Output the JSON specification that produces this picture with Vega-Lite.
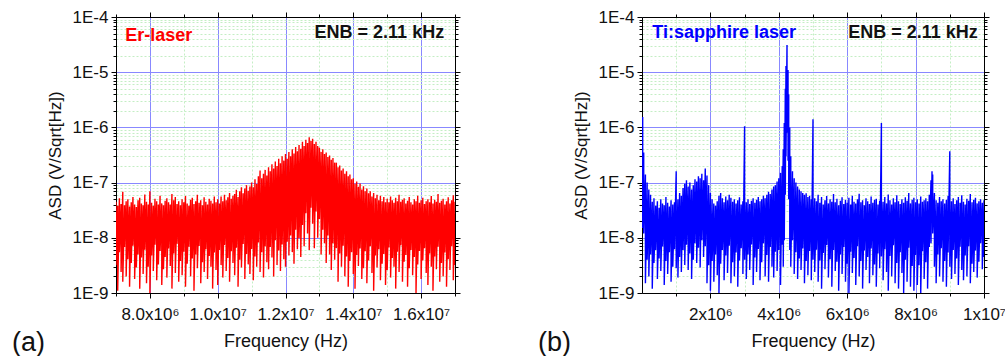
{
  "$schema": "https://vega.github.io/schema/vega-lite/v6.json",
  "padding": {"left": 12, "top": 8, "right": 0, "bottom": 0},
  "spacing": 77,
  "config": {
    "view": {"stroke": null},
    "font": "Liberation Sans",
    "axis": {
      "domainColor": "#000000",
      "domainWidth": 1,
      "tickColor": "#000000",
      "tickWidth": 1,
      "labelFont": "Liberation Sans",
      "titleFont": "Liberation Sans",
      "labelFontSize": 17,
      "titleFontSize": 17,
      "titleFontWeight": "normal",
      "labelColor": "#111111",
      "titleColor": "#111111",
      "labelOverlap": false,
      "labelFlush": false,
      "gridWidth": 1
    }
  },
  "datasets": {
    "er": [
      {"f":7.00e6,"hi":4.5e-8,"lo":3.2e-9},{"f":7.05e6,"hi":3.8e-8,"lo":1.1e-9},{"f":7.10e6,"hi":5.2e-8,"lo":5.5e-9},{"f":7.15e6,"hi":4.1e-8,"lo":2.4e-9},{"f":7.20e6,"hi":6.8e-8,"lo":1.6e-9},
      {"f":7.25e6,"hi":3.9e-8,"lo":6.8e-9},{"f":7.30e6,"hi":4.6e-8,"lo":2.0e-9},{"f":7.35e6,"hi":5.0e-8,"lo":4.1e-9},{"f":7.40e6,"hi":3.7e-8,"lo":1.3e-9},{"f":7.45e6,"hi":4.4e-8,"lo":3.5e-9},
      {"f":7.50e6,"hi":5.5e-8,"lo":7.2e-9},{"f":7.55e6,"hi":4.0e-8,"lo":1.8e-9},{"f":7.60e6,"hi":3.6e-8,"lo":2.9e-9},{"f":7.65e6,"hi":4.8e-8,"lo":5.0e-9},{"f":7.70e6,"hi":5.3e-8,"lo":1.2e-9},
      {"f":7.75e6,"hi":4.2e-8,"lo":4.4e-9},{"f":7.80e6,"hi":3.9e-8,"lo":2.2e-9},{"f":7.85e6,"hi":6.1e-8,"lo":6.1e-9},{"f":7.90e6,"hi":4.5e-8,"lo":1.5e-9},{"f":7.95e6,"hi":4.0e-8,"lo":3.0e-9},
      {"f":8.00e6,"hi":7.0e-8,"lo":1.0e-9},{"f":8.05e6,"hi":4.3e-8,"lo":4.8e-9},{"f":8.10e6,"hi":3.8e-8,"lo":2.5e-9},{"f":8.15e6,"hi":5.1e-8,"lo":7.5e-9},{"f":8.20e6,"hi":4.6e-8,"lo":1.7e-9},
      {"f":8.25e6,"hi":4.0e-8,"lo":3.3e-9},{"f":8.30e6,"hi":5.8e-8,"lo":5.8e-9},{"f":8.35e6,"hi":4.2e-8,"lo":1.4e-9},{"f":8.40e6,"hi":3.9e-8,"lo":2.7e-9},{"f":8.45e6,"hi":4.7e-8,"lo":4.5e-9},
      {"f":8.50e6,"hi":5.2e-8,"lo":1.9e-9},{"f":8.55e6,"hi":4.4e-8,"lo":6.4e-9},{"f":8.60e6,"hi":4.0e-8,"lo":3.1e-9},{"f":8.65e6,"hi":6.2e-8,"lo":1.2e-9},{"f":8.70e6,"hi":4.8e-8,"lo":5.2e-9},
      {"f":8.75e6,"hi":5.5e-8,"lo":2.3e-9},{"f":8.80e6,"hi":4.1e-8,"lo":7.8e-9},{"f":8.85e6,"hi":4.6e-8,"lo":1.6e-9},{"f":8.90e6,"hi":3.9e-8,"lo":3.8e-9},{"f":8.95e6,"hi":5.0e-8,"lo":2.1e-9},
      {"f":9.00e6,"hi":4.4e-8,"lo":5.6e-9},{"f":9.05e6,"hi":5.7e-8,"lo":1.3e-9},{"f":9.10e6,"hi":4.2e-8,"lo":3.4e-9},{"f":9.15e6,"hi":3.8e-8,"lo":6.9e-9},{"f":9.20e6,"hi":4.9e-8,"lo":2.0e-9},
      {"f":9.25e6,"hi":5.3e-8,"lo":4.2e-9},{"f":9.30e6,"hi":4.1e-8,"lo":1.1e-9},{"f":9.35e6,"hi":4.6e-8,"lo":5.0e-9},{"f":9.40e6,"hi":6.0e-8,"lo":2.8e-9},{"f":9.45e6,"hi":4.3e-8,"lo":7.1e-9},
      {"f":9.50e6,"hi":4.8e-8,"lo":1.5e-9},{"f":9.55e6,"hi":3.9e-8,"lo":3.6e-9},{"f":9.60e6,"hi":5.4e-8,"lo":2.4e-9},{"f":9.65e6,"hi":4.5e-8,"lo":6.2e-9},{"f":9.70e6,"hi":4.0e-8,"lo":1.8e-9},
      {"f":9.75e6,"hi":5.1e-8,"lo":4.7e-9},{"f":9.80e6,"hi":4.7e-8,"lo":3.0e-9},{"f":9.85e6,"hi":4.2e-8,"lo":1.2e-9},{"f":9.90e6,"hi":5.6e-8,"lo":5.4e-9},{"f":9.95e6,"hi":4.4e-8,"lo":2.6e-9},
      {"f":1.000e7,"hi":5.0e-8,"lo":1.4e-9},{"f":1.005e7,"hi":4.2e-8,"lo":6.0e-9},{"f":1.010e7,"hi":5.6e-8,"lo":3.2e-9},{"f":1.015e7,"hi":4.6e-8,"lo":1.9e-9},{"f":1.020e7,"hi":6.0e-8,"lo":7.4e-9},
      {"f":1.025e7,"hi":4.8e-8,"lo":2.5e-9},{"f":1.030e7,"hi":5.4e-8,"lo":4.3e-9},{"f":1.035e7,"hi":6.5e-8,"lo":1.6e-9},{"f":1.040e7,"hi":5.1e-8,"lo":5.7e-9},{"f":1.045e7,"hi":5.8e-8,"lo":3.5e-9},
      {"f":1.050e7,"hi":6.2e-8,"lo":2.1e-9},{"f":1.055e7,"hi":7.4e-8,"lo":6.6e-9},{"f":1.060e7,"hi":5.5e-8,"lo":1.3e-9},{"f":1.065e7,"hi":7.0e-8,"lo":4.0e-9},{"f":1.070e7,"hi":8.2e-8,"lo":2.9e-9},
      {"f":1.075e7,"hi":6.4e-8,"lo":7.7e-9},{"f":1.080e7,"hi":7.8e-8,"lo":1.8e-9},{"f":1.085e7,"hi":9.0e-8,"lo":5.1e-9},{"f":1.090e7,"hi":7.1e-8,"lo":3.3e-9},{"f":1.095e7,"hi":8.5e-8,"lo":2.2e-9},
      {"f":1.100e7,"hi":1.00e-7,"lo":6.3e-9},{"f":1.105e7,"hi":8.2e-8,"lo":1.7e-9},{"f":1.110e7,"hi":1.15e-7,"lo":4.6e-9},{"f":1.115e7,"hi":9.4e-8,"lo":3.0e-9},{"f":1.120e7,"hi":1.30e-7,"lo":8.2e-9},
      {"f":1.125e7,"hi":1.65e-7,"lo":2.4e-9},{"f":1.130e7,"hi":1.20e-7,"lo":5.5e-9},{"f":1.135e7,"hi":1.45e-7,"lo":1.9e-9},{"f":1.140e7,"hi":1.70e-7,"lo":7.0e-9},{"f":1.145e7,"hi":1.35e-7,"lo":3.6e-9},
      {"f":1.150e7,"hi":1.90e-7,"lo":2.7e-9},{"f":1.155e7,"hi":1.60e-7,"lo":6.8e-9},{"f":1.160e7,"hi":2.15e-7,"lo":4.4e-9},{"f":1.165e7,"hi":1.80e-7,"lo":2.0e-9},{"f":1.170e7,"hi":2.40e-7,"lo":9.0e-9},
      {"f":1.175e7,"hi":2.00e-7,"lo":3.2e-9},{"f":1.180e7,"hi":2.70e-7,"lo":5.9e-9},{"f":1.185e7,"hi":2.25e-7,"lo":2.5e-9},{"f":1.190e7,"hi":3.00e-7,"lo":7.6e-9},{"f":1.195e7,"hi":2.50e-7,"lo":4.1e-9},
      {"f":1.200e7,"hi":3.30e-7,"lo":3.0e-9},{"f":1.205e7,"hi":2.70e-7,"lo":8.5e-9},{"f":1.210e7,"hi":3.60e-7,"lo":4.8e-9},{"f":1.215e7,"hi":3.00e-7,"lo":1.10e-8},{"f":1.220e7,"hi":4.00e-7,"lo":5.5e-9},
      {"f":1.225e7,"hi":3.35e-7,"lo":3.4e-9},{"f":1.230e7,"hi":4.40e-7,"lo":1.40e-8},{"f":1.235e7,"hi":3.70e-7,"lo":6.2e-9},{"f":1.240e7,"hi":4.80e-7,"lo":9.8e-9},{"f":1.245e7,"hi":4.10e-7,"lo":4.5e-9},
      {"f":1.250e7,"hi":5.50e-7,"lo":1.70e-8},{"f":1.255e7,"hi":4.60e-7,"lo":7.0e-9},{"f":1.260e7,"hi":6.00e-7,"lo":2.80e-8},{"f":1.265e7,"hi":5.20e-7,"lo":1.20e-8},{"f":1.270e7,"hi":6.60e-7,"lo":6.0e-9},
      {"f":1.275e7,"hi":5.70e-7,"lo":3.50e-8},{"f":1.280e7,"hi":6.20e-7,"lo":1.80e-8},{"f":1.285e7,"hi":5.00e-7,"lo":6.5e-9},{"f":1.290e7,"hi":5.50e-7,"lo":3.00e-8},{"f":1.295e7,"hi":4.60e-7,"lo":1.00e-8},
      {"f":1.300e7,"hi":4.30e-7,"lo":2.20e-8},{"f":1.305e7,"hi":3.60e-7,"lo":5.0e-9},{"f":1.310e7,"hi":4.00e-7,"lo":1.40e-8},{"f":1.315e7,"hi":3.30e-7,"lo":8.0e-9},{"f":1.320e7,"hi":3.50e-7,"lo":3.5e-9},
      {"f":1.325e7,"hi":2.90e-7,"lo":1.10e-8},{"f":1.330e7,"hi":3.10e-7,"lo":5.0e-9},{"f":1.335e7,"hi":2.60e-7,"lo":2.6e-9},{"f":1.340e7,"hi":2.80e-7,"lo":8.0e-9},{"f":1.345e7,"hi":2.30e-7,"lo":4.0e-9},
      {"f":1.350e7,"hi":2.30e-7,"lo":6.5e-9},{"f":1.355e7,"hi":1.90e-7,"lo":1.6e-9},{"f":1.360e7,"hi":2.05e-7,"lo":5.2e-9},{"f":1.365e7,"hi":1.65e-7,"lo":3.0e-9},{"f":1.370e7,"hi":1.80e-7,"lo":7.2e-9},
      {"f":1.375e7,"hi":1.45e-7,"lo":2.0e-9},{"f":1.380e7,"hi":1.60e-7,"lo":4.6e-9},{"f":1.385e7,"hi":1.30e-7,"lo":1.3e-9},{"f":1.390e7,"hi":1.40e-7,"lo":3.8e-9},{"f":1.395e7,"hi":1.15e-7,"lo":5.5e-9},
      {"f":1.400e7,"hi":1.20e-7,"lo":2.2e-9},{"f":1.405e7,"hi":9.5e-8,"lo":1.2e-9},{"f":1.410e7,"hi":1.05e-7,"lo":4.9e-9},{"f":1.415e7,"hi":8.4e-8,"lo":3.1e-9},{"f":1.420e7,"hi":9.6e-8,"lo":6.4e-9},
      {"f":1.425e7,"hi":7.5e-8,"lo":1.8e-9},{"f":1.430e7,"hi":8.6e-8,"lo":2.8e-9},{"f":1.435e7,"hi":7.0e-8,"lo":5.7e-9},{"f":1.440e7,"hi":7.8e-8,"lo":1.5e-9},{"f":1.445e7,"hi":6.4e-8,"lo":3.9e-9},
      {"f":1.450e7,"hi":7.0e-8,"lo":7.0e-9},{"f":1.455e7,"hi":5.6e-8,"lo":2.3e-9},{"f":1.460e7,"hi":6.5e-8,"lo":1.1e-9},{"f":1.465e7,"hi":5.2e-8,"lo":4.8e-9},{"f":1.470e7,"hi":6.0e-8,"lo":2.9e-9},
      {"f":1.475e7,"hi":4.8e-8,"lo":6.2e-9},{"f":1.480e7,"hi":5.8e-8,"lo":1.7e-9},{"f":1.485e7,"hi":4.6e-8,"lo":3.4e-9},{"f":1.490e7,"hi":5.5e-8,"lo":5.1e-9},{"f":1.495e7,"hi":4.4e-8,"lo":1.4e-9},
      {"f":1.500e7,"hi":5.1e-8,"lo":2.6e-9},{"f":1.505e7,"hi":4.4e-8,"lo":6.7e-9},{"f":1.510e7,"hi":5.6e-8,"lo":1.9e-9},{"f":1.515e7,"hi":4.8e-8,"lo":4.3e-9},{"f":1.520e7,"hi":4.3e-8,"lo":3.0e-9},
      {"f":1.525e7,"hi":5.3e-8,"lo":1.2e-9},{"f":1.530e7,"hi":4.6e-8,"lo":5.6e-9},{"f":1.535e7,"hi":6.0e-8,"lo":2.4e-9},{"f":1.540e7,"hi":4.5e-8,"lo":7.3e-9},{"f":1.545e7,"hi":4.9e-8,"lo":1.6e-9},
      {"f":1.550e7,"hi":5.2e-8,"lo":3.7e-9},{"f":1.555e7,"hi":4.2e-8,"lo":4.9e-9},{"f":1.560e7,"hi":4.7e-8,"lo":1.3e-9},{"f":1.565e7,"hi":5.5e-8,"lo":2.8e-9},{"f":1.570e7,"hi":4.4e-8,"lo":6.0e-9},
      {"f":1.575e7,"hi":4.0e-8,"lo":2.1e-9},{"f":1.580e7,"hi":5.0e-8,"lo":4.5e-9},{"f":1.585e7,"hi":4.6e-8,"lo":1.0e-9},{"f":1.590e7,"hi":5.8e-8,"lo":3.3e-9},{"f":1.595e7,"hi":4.3e-8,"lo":5.8e-9},
      {"f":1.600e7,"hi":4.8e-8,"lo":1.8e-9},{"f":1.605e7,"hi":5.3e-8,"lo":3.9e-9},{"f":1.610e7,"hi":4.1e-8,"lo":6.5e-9},{"f":1.615e7,"hi":4.6e-8,"lo":2.3e-9},{"f":1.620e7,"hi":5.0e-8,"lo":1.4e-9},
      {"f":1.625e7,"hi":4.4e-8,"lo":5.2e-9},{"f":1.630e7,"hi":5.7e-8,"lo":3.0e-9},{"f":1.635e7,"hi":4.2e-8,"lo":1.1e-9},{"f":1.640e7,"hi":4.9e-8,"lo":4.6e-9},{"f":1.645e7,"hi":4.5e-8,"lo":2.7e-9},
      {"f":1.650e7,"hi":6.2e-8,"lo":6.9e-9},{"f":1.655e7,"hi":4.3e-8,"lo":1.6e-9},{"f":1.660e7,"hi":4.7e-8,"lo":3.5e-9},{"f":1.665e7,"hi":5.1e-8,"lo":2.0e-9},{"f":1.670e7,"hi":4.0e-8,"lo":5.4e-9},
      {"f":1.675e7,"hi":4.6e-8,"lo":1.3e-9},{"f":1.680e7,"hi":5.4e-8,"lo":4.1e-9},{"f":1.685e7,"hi":4.2e-8,"lo":2.6e-9},{"f":1.690e7,"hi":4.8e-8,"lo":7.0e-9},{"f":1.695e7,"hi":5.9e-8,"lo":1.7e-9},
      {"f":1.700e7,"hi":4.5e-8,"lo":3.2e-9}
    ],
    "ti": [
      {"f":0.00e6,"hi":6.0e-7,"lo":2.0e-8},{"f":0.02e6,"hi":1.55e-6,"lo":1.5e-8},{"f":0.05e6,"hi":3.5e-7,"lo":1.2e-8},{"f":0.10e6,"hi":1.4e-7,"lo":1.5e-9},{"f":0.15e6,"hi":1.0e-7,"lo":4.0e-9},
      {"f":0.20e6,"hi":7.5e-8,"lo":2.0e-9},{"f":0.25e6,"hi":6.0e-8,"lo":5.0e-9},{"f":0.30e6,"hi":4.5e-8,"lo":1.2e-9},{"f":0.35e6,"hi":5.2e-8,"lo":3.5e-9},{"f":0.40e6,"hi":3.8e-8,"lo":6.0e-9},
      {"f":0.45e6,"hi":4.6e-8,"lo":1.8e-9},{"f":0.50e6,"hi":3.5e-8,"lo":4.2e-9},{"f":0.55e6,"hi":5.0e-8,"lo":2.5e-9},{"f":0.60e6,"hi":4.2e-8,"lo":7.0e-9},{"f":0.65e6,"hi":3.9e-8,"lo":1.4e-9},
      {"f":0.70e6,"hi":5.5e-8,"lo":3.8e-9},{"f":0.75e6,"hi":4.3e-8,"lo":2.2e-9},{"f":0.80e6,"hi":3.7e-8,"lo":5.5e-9},{"f":0.85e6,"hi":4.8e-8,"lo":1.6e-9},{"f":0.90e6,"hi":4.0e-8,"lo":3.0e-9},
      {"f":0.95e6,"hi":4.4e-8,"lo":6.2e-9},{"f":1.00e6,"hi":1.6e-7,"lo":2.8e-9},{"f":1.05e6,"hi":5.0e-8,"lo":1.9e-9},{"f":1.10e6,"hi":6.5e-8,"lo":4.5e-9},{"f":1.15e6,"hi":5.8e-8,"lo":2.4e-9},
      {"f":1.20e6,"hi":8.0e-8,"lo":6.0e-9},{"f":1.25e6,"hi":9.5e-8,"lo":3.2e-9},{"f":1.30e6,"hi":1.1e-7,"lo":7.5e-9},{"f":1.35e6,"hi":8.5e-8,"lo":2.6e-9},{"f":1.40e6,"hi":1.0e-7,"lo":5.2e-9},
      {"f":1.45e6,"hi":7.5e-8,"lo":1.8e-9},{"f":1.50e6,"hi":9.0e-8,"lo":4.0e-9},{"f":1.55e6,"hi":1.15e-7,"lo":8.0e-9},{"f":1.60e6,"hi":1.05e-7,"lo":3.5e-9},{"f":1.65e6,"hi":1.3e-7,"lo":6.6e-9},
      {"f":1.70e6,"hi":1.2e-7,"lo":2.9e-9},{"f":1.75e6,"hi":1.45e-7,"lo":9.0e-9},{"f":1.80e6,"hi":1.1e-7,"lo":4.5e-9},{"f":1.85e6,"hi":1.8e-7,"lo":7.0e-9},{"f":1.90e6,"hi":1.35e-7,"lo":1.5e-9},
      {"f":1.95e6,"hi":9.0e-8,"lo":3.2e-9},{"f":2.00e6,"hi":6.5e-8,"lo":1.1e-9},{"f":2.05e6,"hi":5.0e-8,"lo":3.8e-9},{"f":2.10e6,"hi":4.2e-8,"lo":1.6e-9},{"f":2.15e6,"hi":3.8e-8,"lo":5.0e-9},
      {"f":2.20e6,"hi":4.6e-8,"lo":2.1e-9},{"f":2.25e6,"hi":5.8e-8,"lo":1.0e-9},{"f":2.30e6,"hi":6.5e-8,"lo":3.4e-9},{"f":2.35e6,"hi":5.2e-8,"lo":6.0e-9},{"f":2.40e6,"hi":4.4e-8,"lo":1.7e-9},
      {"f":2.45e6,"hi":5.6e-8,"lo":4.8e-9},{"f":2.50e6,"hi":4.8e-8,"lo":2.3e-9},{"f":2.55e6,"hi":6.0e-8,"lo":7.2e-9},{"f":2.60e6,"hi":5.3e-8,"lo":1.5e-9},{"f":2.65e6,"hi":4.5e-8,"lo":3.6e-9},
      {"f":2.70e6,"hi":5.0e-8,"lo":2.0e-9},{"f":2.75e6,"hi":4.2e-8,"lo":5.4e-9},{"f":2.80e6,"hi":4.8e-8,"lo":1.3e-9},{"f":2.85e6,"hi":5.4e-8,"lo":3.9e-9},{"f":2.90e6,"hi":4.0e-8,"lo":6.5e-9},
      {"f":2.95e6,"hi":4.6e-8,"lo":2.2e-9},{"f":3.00e6,"hi":1.05e-6,"lo":4.0e-9},{"f":3.05e6,"hi":4.4e-8,"lo":1.8e-9},{"f":3.10e6,"hi":5.0e-8,"lo":5.0e-9},{"f":3.15e6,"hi":4.1e-8,"lo":2.6e-9},
      {"f":3.20e6,"hi":4.7e-8,"lo":7.6e-9},{"f":3.25e6,"hi":5.2e-8,"lo":1.4e-9},{"f":3.30e6,"hi":4.3e-8,"lo":4.4e-9},{"f":3.35e6,"hi":4.9e-8,"lo":2.4e-9},{"f":3.40e6,"hi":5.5e-8,"lo":6.3e-9},
      {"f":3.45e6,"hi":4.6e-8,"lo":1.7e-9},{"f":3.50e6,"hi":5.0e-8,"lo":3.6e-9},{"f":3.55e6,"hi":5.8e-8,"lo":8.0e-9},{"f":3.60e6,"hi":5.2e-8,"lo":2.0e-9},{"f":3.65e6,"hi":6.0e-8,"lo":4.9e-9},
      {"f":3.70e6,"hi":6.8e-8,"lo":1.6e-9},{"f":3.75e6,"hi":6.2e-8,"lo":6.8e-9},{"f":3.80e6,"hi":7.5e-8,"lo":3.0e-9},{"f":3.85e6,"hi":8.5e-8,"lo":1.9e-9},{"f":3.90e6,"hi":9.0e-8,"lo":5.6e-9},
      {"f":3.95e6,"hi":1.05e-7,"lo":2.5e-9},{"f":4.00e6,"hi":1.2e-7,"lo":6.0e-9},{"f":4.05e6,"hi":1.5e-7,"lo":1.4e-9},{"f":4.10e6,"hi":2.0e-7,"lo":7.5e-9},{"f":4.13e6,"hi":4.0e-7,"lo":3.0e-9},
      {"f":4.16e6,"hi":1.2e-6,"lo":9.0e-9},{"f":4.19e6,"hi":5.0e-6,"lo":6.0e-8},{"f":4.21e6,"hi":1.3e-5,"lo":3.0e-7},{"f":4.24e6,"hi":3.1e-5,"lo":8.0e-7},{"f":4.27e6,"hi":1.1e-5,"lo":2.5e-7},
      {"f":4.29e6,"hi":4.0e-6,"lo":5.0e-8},{"f":4.32e6,"hi":1.0e-6,"lo":6.0e-9},{"f":4.35e6,"hi":3.0e-7,"lo":3.0e-9},{"f":4.40e6,"hi":1.6e-7,"lo":9.0e-9},{"f":4.45e6,"hi":1.2e-7,"lo":2.2e-9},
      {"f":4.50e6,"hi":1.0e-7,"lo":5.5e-9},{"f":4.55e6,"hi":8.5e-8,"lo":1.8e-9},{"f":4.60e6,"hi":7.5e-8,"lo":4.2e-9},{"f":4.65e6,"hi":7.0e-8,"lo":2.6e-9},{"f":4.70e6,"hi":6.5e-8,"lo":6.4e-9},
      {"f":4.75e6,"hi":6.0e-8,"lo":1.5e-9},{"f":4.80e6,"hi":6.4e-8,"lo":3.8e-9},{"f":4.85e6,"hi":5.5e-8,"lo":2.1e-9},{"f":4.90e6,"hi":5.8e-8,"lo":5.8e-9},{"f":4.95e6,"hi":5.0e-8,"lo":1.7e-9},
      {"f":5.00e6,"hi":1.4e-6,"lo":4.0e-9},{"f":5.05e6,"hi":5.2e-8,"lo":2.4e-9},{"f":5.10e6,"hi":4.6e-8,"lo":6.1e-9},{"f":5.15e6,"hi":6.0e-8,"lo":1.6e-9},{"f":5.20e6,"hi":4.3e-8,"lo":3.9e-9},
      {"f":5.25e6,"hi":5.5e-8,"lo":1.2e-9},{"f":5.30e6,"hi":4.0e-8,"lo":5.3e-9},{"f":5.35e6,"hi":4.8e-8,"lo":2.7e-9},{"f":5.40e6,"hi":5.7e-8,"lo":7.4e-9},{"f":5.45e6,"hi":4.2e-8,"lo":1.9e-9},
      {"f":5.50e6,"hi":5.0e-8,"lo":4.1e-9},{"f":5.55e6,"hi":4.5e-8,"lo":1.3e-9},{"f":5.60e6,"hi":6.2e-8,"lo":6.0e-9},{"f":5.65e6,"hi":4.4e-8,"lo":2.5e-9},{"f":5.70e6,"hi":5.1e-8,"lo":3.7e-9},
      {"f":5.75e6,"hi":3.9e-8,"lo":1.1e-9},{"f":5.80e6,"hi":4.7e-8,"lo":5.0e-9},{"f":5.85e6,"hi":5.4e-8,"lo":2.2e-9},{"f":5.90e6,"hi":4.1e-8,"lo":6.8e-9},{"f":5.95e6,"hi":4.9e-8,"lo":1.6e-9},
      {"f":6.00e6,"hi":4.3e-8,"lo":3.4e-9},{"f":6.05e6,"hi":5.3e-8,"lo":1.0e-9},{"f":6.10e6,"hi":4.0e-8,"lo":5.6e-9},{"f":6.15e6,"hi":5.8e-8,"lo":2.3e-9},{"f":6.20e6,"hi":4.5e-8,"lo":4.3e-9},
      {"f":6.25e6,"hi":4.2e-8,"lo":1.4e-9},{"f":6.30e6,"hi":5.0e-8,"lo":7.0e-9},{"f":6.35e6,"hi":6.3e-8,"lo":2.0e-9},{"f":6.40e6,"hi":4.4e-8,"lo":3.8e-9},{"f":6.45e6,"hi":4.8e-8,"lo":1.2e-9},
      {"f":6.50e6,"hi":3.9e-8,"lo":5.9e-9},{"f":6.55e6,"hi":5.2e-8,"lo":2.6e-9},{"f":6.60e6,"hi":4.6e-8,"lo":4.5e-9},{"f":6.65e6,"hi":4.1e-8,"lo":1.5e-9},{"f":6.70e6,"hi":5.6e-8,"lo":6.4e-9},
      {"f":6.75e6,"hi":4.3e-8,"lo":2.1e-9},{"f":6.80e6,"hi":4.9e-8,"lo":3.3e-9},{"f":6.85e6,"hi":5.1e-8,"lo":1.3e-9},{"f":6.90e6,"hi":4.0e-8,"lo":5.2e-9},{"f":6.95e6,"hi":4.7e-8,"lo":2.8e-9},
      {"f":7.00e6,"hi":1.2e-6,"lo":4.6e-9},{"f":7.05e6,"hi":4.5e-8,"lo":1.7e-9},{"f":7.10e6,"hi":5.5e-8,"lo":6.2e-9},{"f":7.15e6,"hi":4.2e-8,"lo":2.4e-9},{"f":7.20e6,"hi":6.1e-8,"lo":1.1e-9},
      {"f":7.25e6,"hi":4.8e-8,"lo":4.7e-9},{"f":7.30e6,"hi":4.0e-8,"lo":2.0e-9},{"f":7.35e6,"hi":5.2e-8,"lo":7.3e-9},{"f":7.40e6,"hi":4.4e-8,"lo":1.5e-9},{"f":7.45e6,"hi":5.9e-8,"lo":3.5e-9},
      {"f":7.50e6,"hi":4.6e-8,"lo":1.2e-9},{"f":7.55e6,"hi":4.1e-8,"lo":5.5e-9},{"f":7.60e6,"hi":5.0e-8,"lo":2.3e-9},{"f":7.65e6,"hi":4.3e-8,"lo":1.0e-9},{"f":7.70e6,"hi":5.4e-8,"lo":4.0e-9},
      {"f":7.75e6,"hi":4.7e-8,"lo":1.6e-9},{"f":7.80e6,"hi":6.5e-8,"lo":6.6e-9},{"f":7.85e6,"hi":4.2e-8,"lo":1.3e-9},{"f":7.90e6,"hi":4.9e-8,"lo":3.1e-9},{"f":7.95e6,"hi":5.3e-8,"lo":1.1e-9},
      {"f":8.00e6,"hi":4.4e-8,"lo":4.9e-9},{"f":8.05e6,"hi":5.0e-8,"lo":1.4e-9},{"f":8.10e6,"hi":4.2e-8,"lo":3.2e-9},{"f":8.15e6,"hi":5.6e-8,"lo":1.0e-9},{"f":8.20e6,"hi":4.5e-8,"lo":5.7e-9},
      {"f":8.25e6,"hi":4.8e-8,"lo":1.8e-9},{"f":8.30e6,"hi":5.2e-8,"lo":3.6e-9},{"f":8.35e6,"hi":4.6e-8,"lo":1.2e-9},{"f":8.40e6,"hi":6.0e-8,"lo":6.8e-9},{"f":8.45e6,"hi":1.1e-7,"lo":8.0e-9},
      {"f":8.48e6,"hi":1.6e-7,"lo":2.0e-8},{"f":8.50e6,"hi":1.4e-7,"lo":1.2e-8},{"f":8.55e6,"hi":6.5e-8,"lo":3.0e-9},{"f":8.60e6,"hi":4.8e-8,"lo":1.5e-9},{"f":8.65e6,"hi":4.3e-8,"lo":5.0e-9},
      {"f":8.70e6,"hi":5.5e-8,"lo":2.0e-9},{"f":8.75e6,"hi":4.6e-8,"lo":6.5e-9},{"f":8.80e6,"hi":5.0e-8,"lo":1.6e-9},{"f":8.85e6,"hi":4.2e-8,"lo":3.8e-9},{"f":8.90e6,"hi":4.9e-8,"lo":1.3e-9},
      {"f":8.95e6,"hi":5.7e-8,"lo":5.4e-9},{"f":9.00e6,"hi":3.7e-7,"lo":3.0e-9},{"f":9.05e6,"hi":4.6e-8,"lo":1.8e-9},{"f":9.10e6,"hi":5.2e-8,"lo":6.0e-9},{"f":9.15e6,"hi":4.1e-8,"lo":2.2e-9},
      {"f":9.20e6,"hi":4.8e-8,"lo":4.2e-9},{"f":9.25e6,"hi":5.5e-8,"lo":1.4e-9},{"f":9.30e6,"hi":4.3e-8,"lo":6.9e-9},{"f":9.35e6,"hi":5.9e-8,"lo":2.6e-9},{"f":9.40e6,"hi":4.5e-8,"lo":1.7e-9},
      {"f":9.45e6,"hi":4.0e-8,"lo":4.8e-9},{"f":9.50e6,"hi":5.1e-8,"lo":2.0e-9},{"f":9.55e6,"hi":4.7e-8,"lo":7.0e-9},{"f":9.60e6,"hi":6.2e-8,"lo":1.5e-9},{"f":9.65e6,"hi":4.4e-8,"lo":3.4e-9},
      {"f":9.70e6,"hi":4.9e-8,"lo":2.4e-9},{"f":9.75e6,"hi":5.3e-8,"lo":5.9e-9},{"f":9.80e6,"hi":4.2e-8,"lo":1.9e-9},{"f":9.85e6,"hi":4.6e-8,"lo":3.7e-9},{"f":9.90e6,"hi":5.0e-8,"lo":8.0e-9},
      {"f":9.95e6,"hi":4.3e-8,"lo":2.7e-9},{"f":10.00e6,"hi":4.8e-8,"lo":4.5e-9}
    ]
  },
  "hconcat": [
    {
      "width": 339,
      "height": 276,
      "title": {"text": "(a)", "orient": "bottom", "anchor": "start", "frame": "group", "fontSize": 27, "fontWeight": "normal", "font": "Liberation Sans", "color": "#111111", "dx": -104, "dy": -24},
      "layer": [
        {
          "data": {"name": "er"},
          "transform": [{"fold": ["hi", "lo"], "as": ["side", "asd"]}],
          "mark": {"type": "line", "color": "#ff0000", "strokeWidth": 1.4, "clip": true},
          "encoding": {
            "x": {
              "field": "f", "type": "quantitative", "title": "Frequency (Hz)",
              "scale": {"domain": [7000000, 17000000], "nice": false, "zero": false},
              "axis": {
                "orient": "bottom",
                "values": [7000000, 8000000, 9000000, 10000000, 11000000, 12000000, 13000000, 14000000, 15000000, 16000000, 17000000],
                "labelExpr": "datum.value == 8000000 ? '8.0x10⁶' : datum.value == 10000000 ? '1.0x10⁷' : datum.value == 12000000 ? '1.2x10⁷' : datum.value == 14000000 ? '1.4x10⁷' : datum.value == 16000000 ? '1.6x10⁷' : ''",
                "labelFontSize": 17,
                "titleFontSize": 18,
                "grid": true,
                "gridColor": {"condition": {"test": "datum.value % 2000000 == 0", "value": "#8888ff"}, "value": "#c4eec4"},
                "gridDash": {"condition": {"test": "datum.value % 2000000 == 0", "value": []}, "value": [2, 2]},
                "tickSize": {"condition": {"test": "datum.value % 2000000 == 0", "value": 5}, "value": 3},
                "labelPadding": 8,
                "titlePadding": 10
              }
            },
            "y": {
              "field": "asd", "type": "quantitative", "title": "ASD (V/Sqrt[Hz])",
              "scale": {"type": "log", "domain": [1e-9, 1e-4], "nice": false},
              "axis": {
                "orient": "left",
                "values": [1e-9, 2e-9, 3e-9, 4e-9, 5e-9, 6e-9, 7e-9, 8e-9, 9e-9, 1e-8, 2e-8, 3e-8, 4e-8, 5e-8, 6e-8, 7e-8, 8e-8, 9e-8, 1e-7, 2e-7, 3e-7, 4e-7, 5e-7, 6e-7, 7e-7, 8e-7, 9e-7, 1e-6, 2e-6, 3e-6, 4e-6, 5e-6, 6e-6, 7e-6, 8e-6, 9e-6, 1e-5, 2e-5, 3e-5, 4e-5, 5e-5, 6e-5, 7e-5, 8e-5, 9e-5, 1e-4],
                "labelExpr": "abs(log(datum.value)/LN10 - round(log(datum.value)/LN10)) < 0.001 ? '1E' + round(log(datum.value)/LN10) : ''",
                "labelFontSize": 17,
                "titleFontSize": 17,
                "grid": true,
                "gridColor": {"condition": {"test": "abs(log(datum.value)/LN10 - round(log(datum.value)/LN10)) < 0.001", "value": "#8888ff"}, "value": "#c4eec4"},
                "gridDash": {"condition": {"test": "abs(log(datum.value)/LN10 - round(log(datum.value)/LN10)) < 0.001", "value": []}, "value": [2, 2]},
                "tickSize": {"condition": {"test": "abs(log(datum.value)/LN10 - round(log(datum.value)/LN10)) < 0.001", "value": 5}, "value": 3},
                "labelPadding": 3,
                "titlePadding": 8
              }
            },
            "order": [{"field": "f", "type": "quantitative"}, {"field": "side", "type": "ordinal"}]
          }
        },
        {
          "data": {"values": [{}]},
          "mark": {"type": "text", "align": "left", "baseline": "middle", "fontSize": 18, "fontWeight": "bold", "color": "#ff0000", "font": "Liberation Sans"},
          "encoding": {
            "x": {"datum": 7270000, "type": "quantitative", "axis": {"orient": "top", "title": null, "labels": false, "grid": false, "values": [7000000, 8000000, 9000000, 10000000, 11000000, 12000000, 13000000, 14000000, 15000000, 16000000, 17000000], "tickSize": {"condition": {"test": "datum.value % 2000000 == 0", "value": 5}, "value": 3}}},
            "y": {"datum": 4.6e-5, "type": "quantitative", "axis": {"orient": "right", "title": null, "labels": false, "grid": false, "values": [1e-9, 2e-9, 3e-9, 4e-9, 5e-9, 6e-9, 7e-9, 8e-9, 9e-9, 1e-8, 2e-8, 3e-8, 4e-8, 5e-8, 6e-8, 7e-8, 8e-8, 9e-8, 1e-7, 2e-7, 3e-7, 4e-7, 5e-7, 6e-7, 7e-7, 8e-7, 9e-7, 1e-6, 2e-6, 3e-6, 4e-6, 5e-6, 6e-6, 7e-6, 8e-6, 9e-6, 1e-5, 2e-5, 3e-5, 4e-5, 5e-5, 6e-5, 7e-5, 8e-5, 9e-5, 1e-4], "tickSize": {"condition": {"test": "abs(log(datum.value)/LN10 - round(log(datum.value)/LN10)) < 0.001", "value": 5}, "value": 3}}},
            "text": {"value": "Er-laser"}
          }
        },
        {
          "data": {"values": [{}]},
          "mark": {"type": "text", "align": "right", "baseline": "middle", "fontSize": 18, "fontWeight": "bold", "color": "#111111", "font": "Liberation Sans"},
          "encoding": {
            "x": {"datum": 16680000, "type": "quantitative", "axis": null},
            "y": {"datum": 5.1e-5, "type": "quantitative", "axis": null},
            "text": {"value": "ENB = 2.11 kHz"}
          }
        }
      ],
      "resolve": {"axis": {"x": "independent", "y": "independent"}}
    },
    {
      "width": 342,
      "height": 276,
      "title": {"text": "(b)", "orient": "bottom", "anchor": "start", "frame": "group", "fontSize": 27, "fontWeight": "normal", "font": "Liberation Sans", "color": "#111111", "dx": -104, "dy": -24},
      "layer": [
        {
          "data": {"name": "ti"},
          "transform": [{"fold": ["hi", "lo"], "as": ["side", "asd"]}],
          "mark": {"type": "line", "color": "#0000ff", "strokeWidth": 1.4, "clip": true},
          "encoding": {
            "x": {
              "field": "f", "type": "quantitative", "title": "Frequency (Hz)",
              "scale": {"domain": [0, 10000000], "nice": false, "zero": false},
              "axis": {
                "orient": "bottom",
                "values": [1000000, 2000000, 3000000, 4000000, 5000000, 6000000, 7000000, 8000000, 9000000, 10000000],
                "labelExpr": "datum.value == 2000000 ? '2x10⁶' : datum.value == 4000000 ? '4x10⁶' : datum.value == 6000000 ? '6x10⁶' : datum.value == 8000000 ? '8x10⁶' : datum.value == 10000000 ? '1x10⁷' : ''",
                "labelFontSize": 17,
                "titleFontSize": 18,
                "grid": true,
                "gridColor": {"condition": {"test": "datum.value % 2000000 == 0", "value": "#8888ff"}, "value": "#c4eec4"},
                "gridDash": {"condition": {"test": "datum.value % 2000000 == 0", "value": []}, "value": [2, 2]},
                "tickSize": {"condition": {"test": "datum.value % 2000000 == 0", "value": 5}, "value": 3},
                "labelPadding": 8,
                "titlePadding": 10
              }
            },
            "y": {
              "field": "asd", "type": "quantitative", "title": "ASD (V/Sqrt[Hz])",
              "scale": {"type": "log", "domain": [1e-9, 1e-4], "nice": false},
              "axis": {
                "orient": "left",
                "values": [1e-9, 2e-9, 3e-9, 4e-9, 5e-9, 6e-9, 7e-9, 8e-9, 9e-9, 1e-8, 2e-8, 3e-8, 4e-8, 5e-8, 6e-8, 7e-8, 8e-8, 9e-8, 1e-7, 2e-7, 3e-7, 4e-7, 5e-7, 6e-7, 7e-7, 8e-7, 9e-7, 1e-6, 2e-6, 3e-6, 4e-6, 5e-6, 6e-6, 7e-6, 8e-6, 9e-6, 1e-5, 2e-5, 3e-5, 4e-5, 5e-5, 6e-5, 7e-5, 8e-5, 9e-5, 1e-4],
                "labelExpr": "abs(log(datum.value)/LN10 - round(log(datum.value)/LN10)) < 0.001 ? '1E' + round(log(datum.value)/LN10) : ''",
                "labelFontSize": 17,
                "titleFontSize": 17,
                "grid": true,
                "gridColor": {"condition": {"test": "abs(log(datum.value)/LN10 - round(log(datum.value)/LN10)) < 0.001", "value": "#8888ff"}, "value": "#c4eec4"},
                "gridDash": {"condition": {"test": "abs(log(datum.value)/LN10 - round(log(datum.value)/LN10)) < 0.001", "value": []}, "value": [2, 2]},
                "tickSize": {"condition": {"test": "abs(log(datum.value)/LN10 - round(log(datum.value)/LN10)) < 0.001", "value": 5}, "value": 3},
                "labelPadding": 3,
                "titlePadding": 8
              }
            },
            "order": [{"field": "f", "type": "quantitative"}, {"field": "side", "type": "ordinal"}]
          }
        },
        {
          "data": {"values": [{}]},
          "mark": {"type": "text", "align": "left", "baseline": "middle", "fontSize": 18, "fontWeight": "bold", "color": "#0000ff", "font": "Liberation Sans"},
          "encoding": {
            "x": {"datum": 300000, "type": "quantitative", "axis": {"orient": "top", "title": null, "labels": false, "grid": false, "values": [1000000, 2000000, 3000000, 4000000, 5000000, 6000000, 7000000, 8000000, 9000000, 10000000], "tickSize": {"condition": {"test": "datum.value % 2000000 == 0", "value": 5}, "value": 3}}},
            "y": {"datum": 5.1e-5, "type": "quantitative", "axis": {"orient": "right", "title": null, "labels": false, "grid": false, "values": [1e-9, 2e-9, 3e-9, 4e-9, 5e-9, 6e-9, 7e-9, 8e-9, 9e-9, 1e-8, 2e-8, 3e-8, 4e-8, 5e-8, 6e-8, 7e-8, 8e-8, 9e-8, 1e-7, 2e-7, 3e-7, 4e-7, 5e-7, 6e-7, 7e-7, 8e-7, 9e-7, 1e-6, 2e-6, 3e-6, 4e-6, 5e-6, 6e-6, 7e-6, 8e-6, 9e-6, 1e-5, 2e-5, 3e-5, 4e-5, 5e-5, 6e-5, 7e-5, 8e-5, 9e-5, 1e-4], "tickSize": {"condition": {"test": "abs(log(datum.value)/LN10 - round(log(datum.value)/LN10)) < 0.001", "value": 5}, "value": 3}}},
            "text": {"value": "Ti:sapphire laser"}
          }
        },
        {
          "data": {"values": [{}]},
          "mark": {"type": "text", "align": "right", "baseline": "middle", "fontSize": 18, "fontWeight": "bold", "color": "#111111", "font": "Liberation Sans"},
          "encoding": {
            "x": {"datum": 9820000, "type": "quantitative", "axis": null},
            "y": {"datum": 5.1e-5, "type": "quantitative", "axis": null},
            "text": {"value": "ENB = 2.11 kHz"}
          }
        }
      ],
      "resolve": {"axis": {"x": "independent", "y": "independent"}}
    }
  ]
}
